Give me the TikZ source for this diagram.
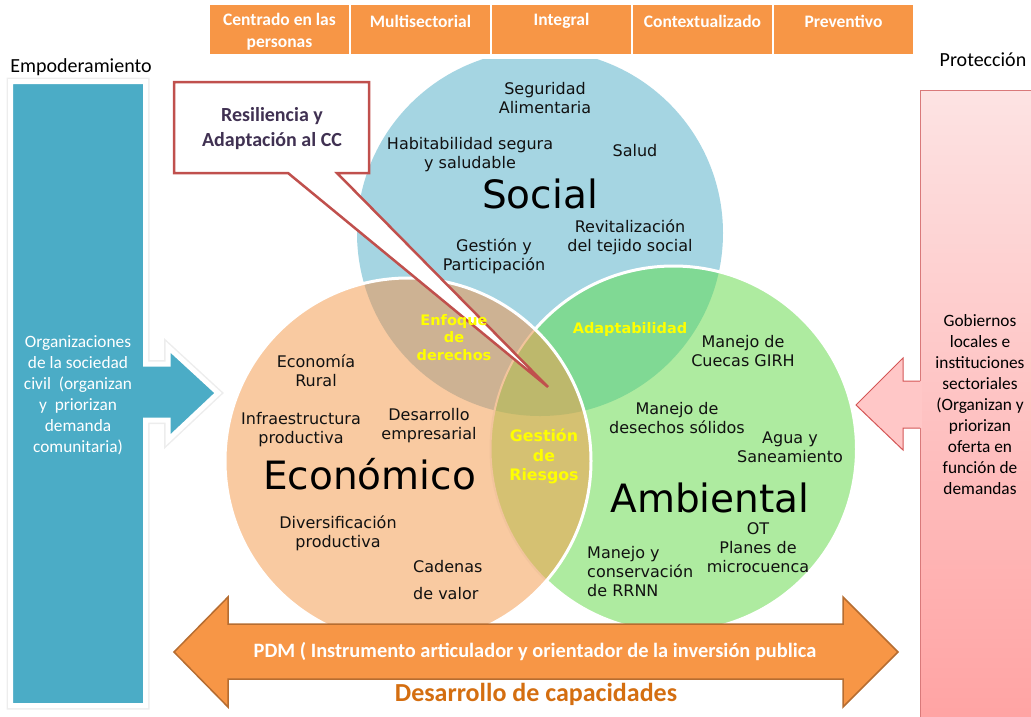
\documentclass[tikz,border=0pt]{standalone}
\usepackage{fontspec}
\setmainfont{DejaVu Sans}
\newfontfamily\calfont{Carlito}
\newfontfamily\dvfont{DejaVu Sans}
\definecolor{socialC}{HTML}{A5D5E2}
\definecolor{ecoC}{HTML}{F9CAA1}
\definecolor{ambC}{HTML}{AEEBA0}
\definecolor{seC}{HTML}{CDB293}
\definecolor{saC}{HTML}{80D994}
\definecolor{eaC}{HTML}{D5C172}
\definecolor{allC}{HTML}{BDB86C}
\definecolor{peachLine}{HTML}{F2C49C}
\definecolor{orangeC}{HTML}{F79646}
\definecolor{orangeB}{HTML}{B66D31}
\definecolor{blueC}{HTML}{4BACC6}
\definecolor{calloutR}{HTML}{C0504D}
\definecolor{darkP}{HTML}{403152}
\definecolor{capC}{HTML}{D46E10}
\definecolor{pinkTop}{HTML}{FDE3E3}
\definecolor{pinkBot}{HTML}{FFA3A3}
\definecolor{pinkBorder}{HTML}{D9797A}
\definecolor{pinkArrow}{HTML}{FFC7C7}
\definecolor{pinkArrowB}{HTML}{D45656}
\definecolor{txtC}{HTML}{111111}
\definecolor{yel}{HTML}{FFFF00}
\begin{document}
\begin{tikzpicture}[x=1pt,y=-1pt,
  itm/.style={font=\dvfont\fontsize{16}{19}\selectfont, align=center, inner sep=0, text=txtC},
  big/.style={font=\dvfont\fontsize{39}{44}\selectfont, inner sep=0, text=black},
  yl/.style={font=\dvfont\bfseries\fontsize{14.5}{17.5}\selectfont, align=center, inner sep=0, text=yel},
  yl2/.style={font=\dvfont\bfseries\fontsize{15.8}{19.5}\selectfont, align=center, inner sep=0, text=yel},
  hdrbox/.style={fill=orangeC, minimum width=139pt, minimum height=49pt, inner sep=0, draw=none},
  hdrtext/.style={font=\calfont\bfseries\fontsize{17.5}{22}\selectfont, text=white, align=center, inner sep=0},
  sidetext/.style={font=\calfont\fontsize{17.3}{21}\selectfont, align=center, inner sep=0},
  toplabel/.style={font=\calfont\fontsize{20}{24}\selectfont, inner sep=0, text=black}
]
\useasboundingbox (0,0) rectangle (1031,716);
\def\R{183pt}
\coordinate (S) at (540,233);
\coordinate (E) at (408,461);
\coordinate (A) at (673.5,449);

% ---- circles ----
\begin{scope}
  \clip (0,59) rectangle (1031,716);
  \fill[socialC] (S) circle[radius=\R];
\end{scope}
\fill[ambC] (A) circle[radius=\R];
\begin{scope}
  \clip (S) circle[radius=\R];
  \fill[saC] (A) circle[radius=\R];
\end{scope}
\draw[white,line width=3pt] (A) circle[radius=\R];
\fill[ecoC] (E) circle[radius=\R];
\begin{scope}
  \clip (E) circle[radius=\R];
  \fill[seC] (S) circle[radius=\R];
  \fill[eaC] (A) circle[radius=\R];
  \clip (S) circle[radius=\R];
  \fill[allC] (A) circle[radius=\R];
\end{scope}
\begin{scope}
  \clip (E) circle[radius=\R];
  \draw[peachLine,line width=2pt] (A) circle[radius=\R];
\end{scope}
\draw[white,line width=3pt] (E) circle[radius=\R];

% ---- left bar with arrow ----
\path[draw=black!7, line width=8pt, line join=miter]
  (10.5,81.5) -- (145.5,81.5) -- (145.5,364) -- (168,364) -- (168,347) -- (218,393) -- (168,440) -- (168,420) -- (145.5,420) -- (145.5,705.5) -- (10.5,705.5) -- cycle;
\path[fill=blueC, draw=white, line width=5pt, line join=miter]
  (10.5,81.5) -- (145.5,81.5) -- (145.5,364) -- (168,364) -- (168,347) -- (218,393) -- (168,440) -- (168,420) -- (145.5,420) -- (145.5,705.5) -- (10.5,705.5) -- cycle;
\node[sidetext, text=white] (org) at (78,395)
  {Organizaciones\\de la sociedad\\civil\ \ (organizan\\y\ \ priorizan\\demanda\\comunitaria)};

% ---- right bar with arrow ----
\shade[top color=pinkTop, bottom color=pinkBot, draw=pinkBorder, line width=1pt]
  (920,90) rectangle (1036,722);
\fill[pinkArrow] (922,381) -- (903,381) -- (903,358) -- (856,405) -- (903,450) -- (903,428) -- (922,428) -- cycle;
\draw[pinkArrowB, line width=1pt] (920,381) -- (903,381) -- (903,358) -- (856,405) -- (903,450) -- (903,428) -- (920,428);
\node[sidetext, text=black] (gob) at (980,405)
  {Gobiernos\\locales e\\instituciones\\sectoriales\\(Organizan y\\priorizan\\oferta en\\función de\\demandas};

% ---- top labels ----
\node[toplabel] (emp) at (81,67) {Empoderamiento};
\node[toplabel] (prot) at (983,60) {Protección};

% ---- header boxes ----
\node[hdrbox] (h1) at (279.5,29.5) {};
\node[hdrbox] (h2) at (420.5,29.5) {};
\node[hdrbox] (h3) at (561.5,29.5) {};
\node[hdrbox] (h4) at (702.5,29.5) {};
\node[hdrbox] (h5) at (843.5,29.5) {};
\node[hdrtext] (t1) at (279.5,32) {Centrado en las\\personas};
\node[hdrtext] (t2) at (420.5,21) {Multisectorial};
\node[hdrtext] (t3) at (561.5,21) {Integral};
\node[hdrtext] (t4) at (702.5,21) {Contextualizado};
\node[hdrtext] (t5) at (843.5,21) {Preventivo};

% ---- callout ----
\draw[calloutR, line width=2.5pt, fill=white, line join=miter]
  (174,82) -- (369,82) -- (369,173) -- (337,173) -- (548,387) -- (288,173) -- (174,173) -- cycle;
\node[font=\calfont\bfseries\fontsize{20}{25}\selectfont, text=darkP, align=center, inner sep=0] (res) at (272,128.5)
  {Resiliencia y\\Adaptación al CC};

% ---- bottom double arrow ----
\draw[fill=orangeC, draw=orangeB, line width=1.5pt, line join=miter]
  (174,652) -- (228,597) -- (228,624) -- (843,624) -- (843,597) -- (898,652) -- (843,707) -- (843,679) -- (228,679) -- (228,707) -- cycle;
\node[font=\calfont\bfseries\fontsize{20.4}{24}\selectfont, text=white, inner sep=0] (pdm) at (535,652)
  {PDM ( Instrumento articulador y orientador de la inversión publica};
\node[font=\calfont\bfseries\fontsize{26}{30}\selectfont, text=capC, inner sep=0] (cap) at (536,694)
  {Desarrollo de capacidades};

% ---- circle texts ----
\node[itm] (segu) at (545,98.5) {Seguridad\\Alimentaria};
\node[itm] (habi) at (470,155) {Habitabilidad segura\\y saludable};
\node[itm] (salu) at (635,151) {Salud};
\node[big] (soc) at (540,194) {Social};
\node[itm] (revi) at (630,237) {Revitalización\\del tejido social};
\node[itm] (gest) at (494,256.5) {Gestión y\\Participación};
\node[yl] (enf) at (454,337.5) {Enfoque\\de\\derechos};
\node[yl] (adap) at (630,329) {Adaptabilidad};
\node[yl2] (grie) at (544,456.5) {Gestión\\de\\Riesgos};
\node[itm] (ecru) at (316,371) {Economía\\Rural};
\node[itm] (infr) at (301,429.5) {Infraestructura\\productiva};
\node[itm] (dese) at (429,425.5) {Desarrollo\\empresarial};
\node[big] (eco) at (369.5,474) {Económico};
\node[itm] (dive) at (338,533.5) {Diversificación\\productiva};
\node[itm, align=left, anchor=west, font=\dvfont\fontsize{16}{27}\selectfont] (cade) at (413,580.5) {Cadenas\\de valor};
\node[itm] (cuec) at (743,351.5) {Manejo de\\Cuecas GIRH};
\node[itm] (desh) at (677,418) {Manejo de\\desechos sólidos};
\node[itm] (agua) at (790,447.5) {Agua y\\Saneamiento};
\node[big] (amb) at (710,497.5) {Ambiental};
\node[itm] (ot) at (758,547.5) {OT\\Planes de\\microcuenca};
\node[itm, align=left, anchor=west] (mane) at (587,571.5) {Manejo y\\conservación\\de RRNN};
\end{tikzpicture}
\end{document}
